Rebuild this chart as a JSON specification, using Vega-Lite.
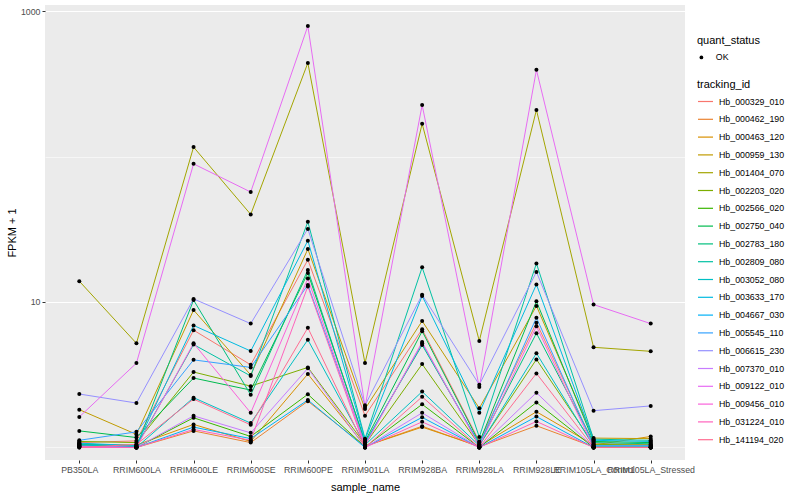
{
  "$schema": "https://vega.github.io/schema/vega-lite/v6.json",
  "width": 640,
  "height": 455,
  "autosize": {"type": "none"},
  "padding": {"left": 45, "top": 5, "right": 115, "bottom": 40},
  "background": "white",
  "config": {
    "font": "Liberation Sans",
    "view": {"fill": "#EBEBEB", "stroke": null},
    "axis": {"domain": false, "gridColor": "white", "tickColor": "#333333", "tickSize": 3, "labelColor": "#4D4D4D", "labelFontSize": 8.8, "titleFontSize": 11, "titleFontWeight": "normal", "titleColor": "black", "labelFont": "Liberation Sans", "titleFont": "Liberation Sans"},
    "legend": {"titleFontSize": 11, "titleFontWeight": "normal", "titleColor": "black", "labelFontSize": 8.8, "labelColor": "black", "titleFont": "Liberation Sans", "labelFont": "Liberation Sans"}
  },
  "data": {"values": [
    {"tracking_id":"Hb_000329_010","sample_name":"PB350LA","fpkm_plus_1":1.08,"quant_status":"OK"},
    {"tracking_id":"Hb_000329_010","sample_name":"RRIM600LA","fpkm_plus_1":1.11,"quant_status":"OK"},
    {"tracking_id":"Hb_000329_010","sample_name":"RRIM600LE","fpkm_plus_1":6.4,"quant_status":"OK"},
    {"tracking_id":"Hb_000329_010","sample_name":"RRIM600SE","fpkm_plus_1":3.7,"quant_status":"OK"},
    {"tracking_id":"Hb_000329_010","sample_name":"RRIM600PE","fpkm_plus_1":19.5,"quant_status":"OK"},
    {"tracking_id":"Hb_000329_010","sample_name":"RRIM901LA","fpkm_plus_1":1.65,"quant_status":"OK"},
    {"tracking_id":"Hb_000329_010","sample_name":"RRIM928BA","fpkm_plus_1":6.5,"quant_status":"OK"},
    {"tracking_id":"Hb_000329_010","sample_name":"RRIM928LA","fpkm_plus_1":1.1,"quant_status":"OK"},
    {"tracking_id":"Hb_000329_010","sample_name":"RRIM928LE","fpkm_plus_1":7.2,"quant_status":"OK"},
    {"tracking_id":"Hb_000329_010","sample_name":"RRIM105LA_Control","fpkm_plus_1":1.06,"quant_status":"OK"},
    {"tracking_id":"Hb_000329_010","sample_name":"RRIM105LA_Stressed","fpkm_plus_1":1.05,"quant_status":"OK"},

    {"tracking_id":"Hb_000462_190","sample_name":"PB350LA","fpkm_plus_1":1.03,"quant_status":"OK"},
    {"tracking_id":"Hb_000462_190","sample_name":"RRIM600LA","fpkm_plus_1":1.0,"quant_status":"OK"},
    {"tracking_id":"Hb_000462_190","sample_name":"RRIM600LE","fpkm_plus_1":1.3,"quant_status":"OK"},
    {"tracking_id":"Hb_000462_190","sample_name":"RRIM600SE","fpkm_plus_1":1.08,"quant_status":"OK"},
    {"tracking_id":"Hb_000462_190","sample_name":"RRIM600PE","fpkm_plus_1":2.08,"quant_status":"OK"},
    {"tracking_id":"Hb_000462_190","sample_name":"RRIM901LA","fpkm_plus_1":1.02,"quant_status":"OK"},
    {"tracking_id":"Hb_000462_190","sample_name":"RRIM928BA","fpkm_plus_1":1.4,"quant_status":"OK"},
    {"tracking_id":"Hb_000462_190","sample_name":"RRIM928LA","fpkm_plus_1":1.01,"quant_status":"OK"},
    {"tracking_id":"Hb_000462_190","sample_name":"RRIM928LE","fpkm_plus_1":1.41,"quant_status":"OK"},
    {"tracking_id":"Hb_000462_190","sample_name":"RRIM105LA_Control","fpkm_plus_1":1.01,"quant_status":"OK"},
    {"tracking_id":"Hb_000462_190","sample_name":"RRIM105LA_Stressed","fpkm_plus_1":1.01,"quant_status":"OK"},

    {"tracking_id":"Hb_000463_120","sample_name":"PB350LA","fpkm_plus_1":1.05,"quant_status":"OK"},
    {"tracking_id":"Hb_000463_120","sample_name":"RRIM600LA","fpkm_plus_1":1.04,"quant_status":"OK"},
    {"tracking_id":"Hb_000463_120","sample_name":"RRIM600LE","fpkm_plus_1":1.44,"quant_status":"OK"},
    {"tracking_id":"Hb_000463_120","sample_name":"RRIM600SE","fpkm_plus_1":1.1,"quant_status":"OK"},
    {"tracking_id":"Hb_000463_120","sample_name":"RRIM600PE","fpkm_plus_1":3.2,"quant_status":"OK"},
    {"tracking_id":"Hb_000463_120","sample_name":"RRIM901LA","fpkm_plus_1":1.02,"quant_status":"OK"},
    {"tracking_id":"Hb_000463_120","sample_name":"RRIM928BA","fpkm_plus_1":1.38,"quant_status":"OK"},
    {"tracking_id":"Hb_000463_120","sample_name":"RRIM928LA","fpkm_plus_1":1.02,"quant_status":"OK"},
    {"tracking_id":"Hb_000463_120","sample_name":"RRIM928LE","fpkm_plus_1":1.76,"quant_status":"OK"},
    {"tracking_id":"Hb_000463_120","sample_name":"RRIM105LA_Control","fpkm_plus_1":1.04,"quant_status":"OK"},
    {"tracking_id":"Hb_000463_120","sample_name":"RRIM105LA_Stressed","fpkm_plus_1":1.19,"quant_status":"OK"},

    {"tracking_id":"Hb_000959_130","sample_name":"PB350LA","fpkm_plus_1":1.82,"quant_status":"OK"},
    {"tracking_id":"Hb_000959_130","sample_name":"RRIM600LA","fpkm_plus_1":1.23,"quant_status":"OK"},
    {"tracking_id":"Hb_000959_130","sample_name":"RRIM600LE","fpkm_plus_1":8.8,"quant_status":"OK"},
    {"tracking_id":"Hb_000959_130","sample_name":"RRIM600SE","fpkm_plus_1":3.15,"quant_status":"OK"},
    {"tracking_id":"Hb_000959_130","sample_name":"RRIM600PE","fpkm_plus_1":23.1,"quant_status":"OK"},
    {"tracking_id":"Hb_000959_130","sample_name":"RRIM901LA","fpkm_plus_1":1.84,"quant_status":"OK"},
    {"tracking_id":"Hb_000959_130","sample_name":"RRIM928BA","fpkm_plus_1":7.4,"quant_status":"OK"},
    {"tracking_id":"Hb_000959_130","sample_name":"RRIM928LA","fpkm_plus_1":1.86,"quant_status":"OK"},
    {"tracking_id":"Hb_000959_130","sample_name":"RRIM928LE","fpkm_plus_1":9.4,"quant_status":"OK"},
    {"tracking_id":"Hb_000959_130","sample_name":"RRIM105LA_Control","fpkm_plus_1":1.16,"quant_status":"OK"},
    {"tracking_id":"Hb_000959_130","sample_name":"RRIM105LA_Stressed","fpkm_plus_1":1.15,"quant_status":"OK"},

    {"tracking_id":"Hb_001404_070","sample_name":"PB350LA","fpkm_plus_1":13.9,"quant_status":"OK"},
    {"tracking_id":"Hb_001404_070","sample_name":"RRIM600LA","fpkm_plus_1":5.2,"quant_status":"OK"},
    {"tracking_id":"Hb_001404_070","sample_name":"RRIM600LE","fpkm_plus_1":116,"quant_status":"OK"},
    {"tracking_id":"Hb_001404_070","sample_name":"RRIM600SE","fpkm_plus_1":40,"quant_status":"OK"},
    {"tracking_id":"Hb_001404_070","sample_name":"RRIM600PE","fpkm_plus_1":440,"quant_status":"OK"},
    {"tracking_id":"Hb_001404_070","sample_name":"RRIM901LA","fpkm_plus_1":3.8,"quant_status":"OK"},
    {"tracking_id":"Hb_001404_070","sample_name":"RRIM928BA","fpkm_plus_1":168,"quant_status":"OK"},
    {"tracking_id":"Hb_001404_070","sample_name":"RRIM928LA","fpkm_plus_1":5.4,"quant_status":"OK"},
    {"tracking_id":"Hb_001404_070","sample_name":"RRIM928LE","fpkm_plus_1":209,"quant_status":"OK"},
    {"tracking_id":"Hb_001404_070","sample_name":"RRIM105LA_Control","fpkm_plus_1":4.88,"quant_status":"OK"},
    {"tracking_id":"Hb_001404_070","sample_name":"RRIM105LA_Stressed","fpkm_plus_1":4.58,"quant_status":"OK"},

    {"tracking_id":"Hb_002203_020","sample_name":"PB350LA","fpkm_plus_1":1.1,"quant_status":"OK"},
    {"tracking_id":"Hb_002203_020","sample_name":"RRIM600LA","fpkm_plus_1":1.08,"quant_status":"OK"},
    {"tracking_id":"Hb_002203_020","sample_name":"RRIM600LE","fpkm_plus_1":3.3,"quant_status":"OK"},
    {"tracking_id":"Hb_002203_020","sample_name":"RRIM600SE","fpkm_plus_1":2.64,"quant_status":"OK"},
    {"tracking_id":"Hb_002203_020","sample_name":"RRIM600PE","fpkm_plus_1":3.55,"quant_status":"OK"},
    {"tracking_id":"Hb_002203_020","sample_name":"RRIM901LA","fpkm_plus_1":1.05,"quant_status":"OK"},
    {"tracking_id":"Hb_002203_020","sample_name":"RRIM928BA","fpkm_plus_1":3.74,"quant_status":"OK"},
    {"tracking_id":"Hb_002203_020","sample_name":"RRIM928LA","fpkm_plus_1":1.04,"quant_status":"OK"},
    {"tracking_id":"Hb_002203_020","sample_name":"RRIM928LE","fpkm_plus_1":4.03,"quant_status":"OK"},
    {"tracking_id":"Hb_002203_020","sample_name":"RRIM105LA_Control","fpkm_plus_1":1.05,"quant_status":"OK"},
    {"tracking_id":"Hb_002203_020","sample_name":"RRIM105LA_Stressed","fpkm_plus_1":1.04,"quant_status":"OK"},

    {"tracking_id":"Hb_002566_020","sample_name":"PB350LA","fpkm_plus_1":1.03,"quant_status":"OK"},
    {"tracking_id":"Hb_002566_020","sample_name":"RRIM600LA","fpkm_plus_1":1.0,"quant_status":"OK"},
    {"tracking_id":"Hb_002566_020","sample_name":"RRIM600LE","fpkm_plus_1":1.6,"quant_status":"OK"},
    {"tracking_id":"Hb_002566_020","sample_name":"RRIM600SE","fpkm_plus_1":1.19,"quant_status":"OK"},
    {"tracking_id":"Hb_002566_020","sample_name":"RRIM600PE","fpkm_plus_1":2.32,"quant_status":"OK"},
    {"tracking_id":"Hb_002566_020","sample_name":"RRIM901LA","fpkm_plus_1":1.01,"quant_status":"OK"},
    {"tracking_id":"Hb_002566_020","sample_name":"RRIM928BA","fpkm_plus_1":1.98,"quant_status":"OK"},
    {"tracking_id":"Hb_002566_020","sample_name":"RRIM928LA","fpkm_plus_1":1.0,"quant_status":"OK"},
    {"tracking_id":"Hb_002566_020","sample_name":"RRIM928LE","fpkm_plus_1":2.04,"quant_status":"OK"},
    {"tracking_id":"Hb_002566_020","sample_name":"RRIM105LA_Control","fpkm_plus_1":1.0,"quant_status":"OK"},
    {"tracking_id":"Hb_002566_020","sample_name":"RRIM105LA_Stressed","fpkm_plus_1":1.0,"quant_status":"OK"},

    {"tracking_id":"Hb_002750_040","sample_name":"PB350LA","fpkm_plus_1":1.3,"quant_status":"OK"},
    {"tracking_id":"Hb_002750_040","sample_name":"RRIM600LA","fpkm_plus_1":1.17,"quant_status":"OK"},
    {"tracking_id":"Hb_002750_040","sample_name":"RRIM600LE","fpkm_plus_1":3.0,"quant_status":"OK"},
    {"tracking_id":"Hb_002750_040","sample_name":"RRIM600SE","fpkm_plus_1":2.48,"quant_status":"OK"},
    {"tracking_id":"Hb_002750_040","sample_name":"RRIM600PE","fpkm_plus_1":15.8,"quant_status":"OK"},
    {"tracking_id":"Hb_002750_040","sample_name":"RRIM901LA","fpkm_plus_1":1.1,"quant_status":"OK"},
    {"tracking_id":"Hb_002750_040","sample_name":"RRIM928BA","fpkm_plus_1":6.3,"quant_status":"OK"},
    {"tracking_id":"Hb_002750_040","sample_name":"RRIM928LA","fpkm_plus_1":1.08,"quant_status":"OK"},
    {"tracking_id":"Hb_002750_040","sample_name":"RRIM928LE","fpkm_plus_1":10.1,"quant_status":"OK"},
    {"tracking_id":"Hb_002750_040","sample_name":"RRIM105LA_Control","fpkm_plus_1":1.1,"quant_status":"OK"},
    {"tracking_id":"Hb_002750_040","sample_name":"RRIM105LA_Stressed","fpkm_plus_1":1.08,"quant_status":"OK"},

    {"tracking_id":"Hb_002783_180","sample_name":"PB350LA","fpkm_plus_1":1.05,"quant_status":"OK"},
    {"tracking_id":"Hb_002783_180","sample_name":"RRIM600LA","fpkm_plus_1":1.01,"quant_status":"OK"},
    {"tracking_id":"Hb_002783_180","sample_name":"RRIM600LE","fpkm_plus_1":10.3,"quant_status":"OK"},
    {"tracking_id":"Hb_002783_180","sample_name":"RRIM600SE","fpkm_plus_1":2.3,"quant_status":"OK"},
    {"tracking_id":"Hb_002783_180","sample_name":"RRIM600PE","fpkm_plus_1":16.6,"quant_status":"OK"},
    {"tracking_id":"Hb_002783_180","sample_name":"RRIM901LA","fpkm_plus_1":1.08,"quant_status":"OK"},
    {"tracking_id":"Hb_002783_180","sample_name":"RRIM928BA","fpkm_plus_1":5.06,"quant_status":"OK"},
    {"tracking_id":"Hb_002783_180","sample_name":"RRIM928LA","fpkm_plus_1":1.06,"quant_status":"OK"},
    {"tracking_id":"Hb_002783_180","sample_name":"RRIM928LE","fpkm_plus_1":6.1,"quant_status":"OK"},
    {"tracking_id":"Hb_002783_180","sample_name":"RRIM105LA_Control","fpkm_plus_1":1.08,"quant_status":"OK"},
    {"tracking_id":"Hb_002783_180","sample_name":"RRIM105LA_Stressed","fpkm_plus_1":1.06,"quant_status":"OK"},

    {"tracking_id":"Hb_002809_080","sample_name":"PB350LA","fpkm_plus_1":1.06,"quant_status":"OK"},
    {"tracking_id":"Hb_002809_080","sample_name":"RRIM600LA","fpkm_plus_1":1.02,"quant_status":"OK"},
    {"tracking_id":"Hb_002809_080","sample_name":"RRIM600LE","fpkm_plus_1":5.1,"quant_status":"OK"},
    {"tracking_id":"Hb_002809_080","sample_name":"RRIM600SE","fpkm_plus_1":3.1,"quant_status":"OK"},
    {"tracking_id":"Hb_002809_080","sample_name":"RRIM600PE","fpkm_plus_1":35.6,"quant_status":"OK"},
    {"tracking_id":"Hb_002809_080","sample_name":"RRIM901LA","fpkm_plus_1":1.15,"quant_status":"OK"},
    {"tracking_id":"Hb_002809_080","sample_name":"RRIM928BA","fpkm_plus_1":17.3,"quant_status":"OK"},
    {"tracking_id":"Hb_002809_080","sample_name":"RRIM928LA","fpkm_plus_1":1.18,"quant_status":"OK"},
    {"tracking_id":"Hb_002809_080","sample_name":"RRIM928LE","fpkm_plus_1":18.4,"quant_status":"OK"},
    {"tracking_id":"Hb_002809_080","sample_name":"RRIM105LA_Control","fpkm_plus_1":1.14,"quant_status":"OK"},
    {"tracking_id":"Hb_002809_080","sample_name":"RRIM105LA_Stressed","fpkm_plus_1":1.12,"quant_status":"OK"},

    {"tracking_id":"Hb_003052_080","sample_name":"PB350LA","fpkm_plus_1":1.04,"quant_status":"OK"},
    {"tracking_id":"Hb_003052_080","sample_name":"RRIM600LA","fpkm_plus_1":1.0,"quant_status":"OK"},
    {"tracking_id":"Hb_003052_080","sample_name":"RRIM600LE","fpkm_plus_1":2.2,"quant_status":"OK"},
    {"tracking_id":"Hb_003052_080","sample_name":"RRIM600SE","fpkm_plus_1":1.47,"quant_status":"OK"},
    {"tracking_id":"Hb_003052_080","sample_name":"RRIM600PE","fpkm_plus_1":5.5,"quant_status":"OK"},
    {"tracking_id":"Hb_003052_080","sample_name":"RRIM901LA","fpkm_plus_1":1.04,"quant_status":"OK"},
    {"tracking_id":"Hb_003052_080","sample_name":"RRIM928BA","fpkm_plus_1":2.42,"quant_status":"OK"},
    {"tracking_id":"Hb_003052_080","sample_name":"RRIM928LA","fpkm_plus_1":1.03,"quant_status":"OK"},
    {"tracking_id":"Hb_003052_080","sample_name":"RRIM928LE","fpkm_plus_1":4.44,"quant_status":"OK"},
    {"tracking_id":"Hb_003052_080","sample_name":"RRIM105LA_Control","fpkm_plus_1":1.02,"quant_status":"OK"},
    {"tracking_id":"Hb_003052_080","sample_name":"RRIM105LA_Stressed","fpkm_plus_1":1.02,"quant_status":"OK"},

    {"tracking_id":"Hb_003633_170","sample_name":"PB350LA","fpkm_plus_1":1.07,"quant_status":"OK"},
    {"tracking_id":"Hb_003633_170","sample_name":"RRIM600LA","fpkm_plus_1":1.03,"quant_status":"OK"},
    {"tracking_id":"Hb_003633_170","sample_name":"RRIM600LE","fpkm_plus_1":6.9,"quant_status":"OK"},
    {"tracking_id":"Hb_003633_170","sample_name":"RRIM600SE","fpkm_plus_1":4.6,"quant_status":"OK"},
    {"tracking_id":"Hb_003633_170","sample_name":"RRIM600PE","fpkm_plus_1":26.4,"quant_status":"OK"},
    {"tracking_id":"Hb_003633_170","sample_name":"RRIM901LA","fpkm_plus_1":1.13,"quant_status":"OK"},
    {"tracking_id":"Hb_003633_170","sample_name":"RRIM928BA","fpkm_plus_1":11.0,"quant_status":"OK"},
    {"tracking_id":"Hb_003633_170","sample_name":"RRIM928LA","fpkm_plus_1":1.73,"quant_status":"OK"},
    {"tracking_id":"Hb_003633_170","sample_name":"RRIM928LE","fpkm_plus_1":13.2,"quant_status":"OK"},
    {"tracking_id":"Hb_003633_170","sample_name":"RRIM105LA_Control","fpkm_plus_1":1.12,"quant_status":"OK"},
    {"tracking_id":"Hb_003633_170","sample_name":"RRIM105LA_Stressed","fpkm_plus_1":1.1,"quant_status":"OK"},

    {"tracking_id":"Hb_004667_030","sample_name":"PB350LA","fpkm_plus_1":1.02,"quant_status":"OK"},
    {"tracking_id":"Hb_004667_030","sample_name":"RRIM600LA","fpkm_plus_1":1.0,"quant_status":"OK"},
    {"tracking_id":"Hb_004667_030","sample_name":"RRIM600LE","fpkm_plus_1":1.38,"quant_status":"OK"},
    {"tracking_id":"Hb_004667_030","sample_name":"RRIM600SE","fpkm_plus_1":1.15,"quant_status":"OK"},
    {"tracking_id":"Hb_004667_030","sample_name":"RRIM600PE","fpkm_plus_1":2.12,"quant_status":"OK"},
    {"tracking_id":"Hb_004667_030","sample_name":"RRIM901LA","fpkm_plus_1":1.0,"quant_status":"OK"},
    {"tracking_id":"Hb_004667_030","sample_name":"RRIM928BA","fpkm_plus_1":1.61,"quant_status":"OK"},
    {"tracking_id":"Hb_004667_030","sample_name":"RRIM928LA","fpkm_plus_1":1.0,"quant_status":"OK"},
    {"tracking_id":"Hb_004667_030","sample_name":"RRIM928LE","fpkm_plus_1":1.63,"quant_status":"OK"},
    {"tracking_id":"Hb_004667_030","sample_name":"RRIM105LA_Control","fpkm_plus_1":1.0,"quant_status":"OK"},
    {"tracking_id":"Hb_004667_030","sample_name":"RRIM105LA_Stressed","fpkm_plus_1":1.0,"quant_status":"OK"},

    {"tracking_id":"Hb_005545_110","sample_name":"PB350LA","fpkm_plus_1":1.12,"quant_status":"OK"},
    {"tracking_id":"Hb_005545_110","sample_name":"RRIM600LA","fpkm_plus_1":1.28,"quant_status":"OK"},
    {"tracking_id":"Hb_005545_110","sample_name":"RRIM600LE","fpkm_plus_1":4.0,"quant_status":"OK"},
    {"tracking_id":"Hb_005545_110","sample_name":"RRIM600SE","fpkm_plus_1":3.55,"quant_status":"OK"},
    {"tracking_id":"Hb_005545_110","sample_name":"RRIM600PE","fpkm_plus_1":13.1,"quant_status":"OK"},
    {"tracking_id":"Hb_005545_110","sample_name":"RRIM901LA","fpkm_plus_1":1.06,"quant_status":"OK"},
    {"tracking_id":"Hb_005545_110","sample_name":"RRIM928BA","fpkm_plus_1":5.2,"quant_status":"OK"},
    {"tracking_id":"Hb_005545_110","sample_name":"RRIM928LA","fpkm_plus_1":1.05,"quant_status":"OK"},
    {"tracking_id":"Hb_005545_110","sample_name":"RRIM928LE","fpkm_plus_1":7.8,"quant_status":"OK"},
    {"tracking_id":"Hb_005545_110","sample_name":"RRIM105LA_Control","fpkm_plus_1":1.03,"quant_status":"OK"},
    {"tracking_id":"Hb_005545_110","sample_name":"RRIM105LA_Stressed","fpkm_plus_1":1.03,"quant_status":"OK"},

    {"tracking_id":"Hb_006615_230","sample_name":"PB350LA","fpkm_plus_1":2.33,"quant_status":"OK"},
    {"tracking_id":"Hb_006615_230","sample_name":"RRIM600LA","fpkm_plus_1":2.02,"quant_status":"OK"},
    {"tracking_id":"Hb_006615_230","sample_name":"RRIM600LE","fpkm_plus_1":10.5,"quant_status":"OK"},
    {"tracking_id":"Hb_006615_230","sample_name":"RRIM600SE","fpkm_plus_1":7.1,"quant_status":"OK"},
    {"tracking_id":"Hb_006615_230","sample_name":"RRIM600PE","fpkm_plus_1":31.8,"quant_status":"OK"},
    {"tracking_id":"Hb_006615_230","sample_name":"RRIM901LA","fpkm_plus_1":1.95,"quant_status":"OK"},
    {"tracking_id":"Hb_006615_230","sample_name":"RRIM928BA","fpkm_plus_1":11.2,"quant_status":"OK"},
    {"tracking_id":"Hb_006615_230","sample_name":"RRIM928LA","fpkm_plus_1":2.7,"quant_status":"OK"},
    {"tracking_id":"Hb_006615_230","sample_name":"RRIM928LE","fpkm_plus_1":16.1,"quant_status":"OK"},
    {"tracking_id":"Hb_006615_230","sample_name":"RRIM105LA_Control","fpkm_plus_1":1.79,"quant_status":"OK"},
    {"tracking_id":"Hb_006615_230","sample_name":"RRIM105LA_Stressed","fpkm_plus_1":1.93,"quant_status":"OK"},

    {"tracking_id":"Hb_007370_010","sample_name":"PB350LA","fpkm_plus_1":1.02,"quant_status":"OK"},
    {"tracking_id":"Hb_007370_010","sample_name":"RRIM600LA","fpkm_plus_1":1.0,"quant_status":"OK"},
    {"tracking_id":"Hb_007370_010","sample_name":"RRIM600LE","fpkm_plus_1":1.65,"quant_status":"OK"},
    {"tracking_id":"Hb_007370_010","sample_name":"RRIM600SE","fpkm_plus_1":1.26,"quant_status":"OK"},
    {"tracking_id":"Hb_007370_010","sample_name":"RRIM600PE","fpkm_plus_1":3.5,"quant_status":"OK"},
    {"tracking_id":"Hb_007370_010","sample_name":"RRIM901LA","fpkm_plus_1":1.0,"quant_status":"OK"},
    {"tracking_id":"Hb_007370_010","sample_name":"RRIM928BA","fpkm_plus_1":1.73,"quant_status":"OK"},
    {"tracking_id":"Hb_007370_010","sample_name":"RRIM928LA","fpkm_plus_1":1.0,"quant_status":"OK"},
    {"tracking_id":"Hb_007370_010","sample_name":"RRIM928LE","fpkm_plus_1":2.38,"quant_status":"OK"},
    {"tracking_id":"Hb_007370_010","sample_name":"RRIM105LA_Control","fpkm_plus_1":1.0,"quant_status":"OK"},
    {"tracking_id":"Hb_007370_010","sample_name":"RRIM105LA_Stressed","fpkm_plus_1":1.0,"quant_status":"OK"},

    {"tracking_id":"Hb_009122_010","sample_name":"PB350LA","fpkm_plus_1":1.62,"quant_status":"OK"},
    {"tracking_id":"Hb_009122_010","sample_name":"RRIM600LA","fpkm_plus_1":3.8,"quant_status":"OK"},
    {"tracking_id":"Hb_009122_010","sample_name":"RRIM600LE","fpkm_plus_1":89,"quant_status":"OK"},
    {"tracking_id":"Hb_009122_010","sample_name":"RRIM600SE","fpkm_plus_1":57,"quant_status":"OK"},
    {"tracking_id":"Hb_009122_010","sample_name":"RRIM600PE","fpkm_plus_1":789,"quant_status":"OK"},
    {"tracking_id":"Hb_009122_010","sample_name":"RRIM901LA","fpkm_plus_1":1.9,"quant_status":"OK"},
    {"tracking_id":"Hb_009122_010","sample_name":"RRIM928BA","fpkm_plus_1":226,"quant_status":"OK"},
    {"tracking_id":"Hb_009122_010","sample_name":"RRIM928LA","fpkm_plus_1":2.6,"quant_status":"OK"},
    {"tracking_id":"Hb_009122_010","sample_name":"RRIM928LE","fpkm_plus_1":394,"quant_status":"OK"},
    {"tracking_id":"Hb_009122_010","sample_name":"RRIM105LA_Control","fpkm_plus_1":9.6,"quant_status":"OK"},
    {"tracking_id":"Hb_009122_010","sample_name":"RRIM105LA_Stressed","fpkm_plus_1":7.1,"quant_status":"OK"},

    {"tracking_id":"Hb_009456_010","sample_name":"PB350LA","fpkm_plus_1":1.01,"quant_status":"OK"},
    {"tracking_id":"Hb_009456_010","sample_name":"RRIM600LA","fpkm_plus_1":1.0,"quant_status":"OK"},
    {"tracking_id":"Hb_009456_010","sample_name":"RRIM600LE","fpkm_plus_1":5.2,"quant_status":"OK"},
    {"tracking_id":"Hb_009456_010","sample_name":"RRIM600SE","fpkm_plus_1":1.73,"quant_status":"OK"},
    {"tracking_id":"Hb_009456_010","sample_name":"RRIM600PE","fpkm_plus_1":14.5,"quant_status":"OK"},
    {"tracking_id":"Hb_009456_010","sample_name":"RRIM901LA","fpkm_plus_1":1.03,"quant_status":"OK"},
    {"tracking_id":"Hb_009456_010","sample_name":"RRIM928BA","fpkm_plus_1":5.3,"quant_status":"OK"},
    {"tracking_id":"Hb_009456_010","sample_name":"RRIM928LA","fpkm_plus_1":1.02,"quant_status":"OK"},
    {"tracking_id":"Hb_009456_010","sample_name":"RRIM928LE","fpkm_plus_1":6.8,"quant_status":"OK"},
    {"tracking_id":"Hb_009456_010","sample_name":"RRIM105LA_Control","fpkm_plus_1":1.0,"quant_status":"OK"},
    {"tracking_id":"Hb_009456_010","sample_name":"RRIM105LA_Stressed","fpkm_plus_1":1.0,"quant_status":"OK"},

    {"tracking_id":"Hb_031224_010","sample_name":"PB350LA","fpkm_plus_1":1.0,"quant_status":"OK"},
    {"tracking_id":"Hb_031224_010","sample_name":"RRIM600LA","fpkm_plus_1":1.0,"quant_status":"OK"},
    {"tracking_id":"Hb_031224_010","sample_name":"RRIM600LE","fpkm_plus_1":1.33,"quant_status":"OK"},
    {"tracking_id":"Hb_031224_010","sample_name":"RRIM600SE","fpkm_plus_1":1.12,"quant_status":"OK"},
    {"tracking_id":"Hb_031224_010","sample_name":"RRIM600PE","fpkm_plus_1":12.8,"quant_status":"OK"},
    {"tracking_id":"Hb_031224_010","sample_name":"RRIM901LA","fpkm_plus_1":1.0,"quant_status":"OK"},
    {"tracking_id":"Hb_031224_010","sample_name":"RRIM928BA","fpkm_plus_1":1.5,"quant_status":"OK"},
    {"tracking_id":"Hb_031224_010","sample_name":"RRIM928LA","fpkm_plus_1":1.0,"quant_status":"OK"},
    {"tracking_id":"Hb_031224_010","sample_name":"RRIM928LE","fpkm_plus_1":1.51,"quant_status":"OK"},
    {"tracking_id":"Hb_031224_010","sample_name":"RRIM105LA_Control","fpkm_plus_1":1.0,"quant_status":"OK"},
    {"tracking_id":"Hb_031224_010","sample_name":"RRIM105LA_Stressed","fpkm_plus_1":1.0,"quant_status":"OK"},

    {"tracking_id":"Hb_141194_020","sample_name":"PB350LA","fpkm_plus_1":1.0,"quant_status":"OK"},
    {"tracking_id":"Hb_141194_020","sample_name":"RRIM600LA","fpkm_plus_1":1.05,"quant_status":"OK"},
    {"tracking_id":"Hb_141194_020","sample_name":"RRIM600LE","fpkm_plus_1":2.15,"quant_status":"OK"},
    {"tracking_id":"Hb_141194_020","sample_name":"RRIM600SE","fpkm_plus_1":1.43,"quant_status":"OK"},
    {"tracking_id":"Hb_141194_020","sample_name":"RRIM600PE","fpkm_plus_1":6.65,"quant_status":"OK"},
    {"tracking_id":"Hb_141194_020","sample_name":"RRIM901LA","fpkm_plus_1":1.0,"quant_status":"OK"},
    {"tracking_id":"Hb_141194_020","sample_name":"RRIM928BA","fpkm_plus_1":2.23,"quant_status":"OK"},
    {"tracking_id":"Hb_141194_020","sample_name":"RRIM928LA","fpkm_plus_1":1.0,"quant_status":"OK"},
    {"tracking_id":"Hb_141194_020","sample_name":"RRIM928LE","fpkm_plus_1":3.23,"quant_status":"OK"},
    {"tracking_id":"Hb_141194_020","sample_name":"RRIM105LA_Control","fpkm_plus_1":1.0,"quant_status":"OK"},
    {"tracking_id":"Hb_141194_020","sample_name":"RRIM105LA_Stressed","fpkm_plus_1":1.0,"quant_status":"OK"}
  ]},
  "encoding": {
    "x": {
      "field": "sample_name", "type": "nominal",
      "sort": ["PB350LA","RRIM600LA","RRIM600LE","RRIM600SE","RRIM600PE","RRIM901LA","RRIM928BA","RRIM928LA","RRIM928LE","RRIM105LA_Control","RRIM105LA_Stressed"],
      "scale": {"type": "point", "padding": 0.6},
      "axis": {"title": "sample_name", "labelAngle": 0, "labelOverlap": false, "labelLimit": 0, "labelPadding": 2, "titlePadding": 8, "gridWidth": 1.1}
    },
    "y": {
      "field": "fpkm_plus_1", "type": "quantitative",
      "scale": {"type": "log", "domain": [0.82, 1100], "nice": false, "zero": false},
      "axis": {
        "title": "FPKM + 1",
        "values": [1, 10, 100, 1000],
        "labelExpr": "(datum.value == 10 || datum.value == 1000) ? format(datum.value, 'd') : ''",
        "gridWidth": {"condition": {"test": "datum.value == 10 || datum.value == 1000", "value": 1.1}, "value": 0.55},
        "tickOpacity": {"condition": {"test": "datum.value == 10 || datum.value == 1000", "value": 1}, "value": 0},
        "labelPadding": 2,
        "titlePadding": 3
      }
    }
  },
  "layer": [
    {
      "mark": {"type": "line", "strokeWidth": 1},
      "encoding": {
        "color": {
          "field": "tracking_id", "type": "nominal",
          "scale": {
            "domain": ["Hb_000329_010","Hb_000462_190","Hb_000463_120","Hb_000959_130","Hb_001404_070","Hb_002203_020","Hb_002566_020","Hb_002750_040","Hb_002783_180","Hb_002809_080","Hb_003052_080","Hb_003633_170","Hb_004667_030","Hb_005545_110","Hb_006615_230","Hb_007370_010","Hb_009122_010","Hb_009456_010","Hb_031224_010","Hb_141194_020"],
            "range": ["#F8766D","#EA8331","#D89000","#C09B00","#A3A500","#7CAE00","#39B600","#00BB4E","#00BF7D","#00C1A3","#00BFC4","#00BAE0","#00B0F6","#35A2FF","#9590FF","#C77CFF","#E76BF3","#FA62DB","#FF62BC","#FF6C91"]
          },
          "legend": {"title": "tracking_id", "orient": "none", "legendX": 652, "legendY": 74, "symbolType": "stroke", "symbolStrokeWidth": 1.2, "symbolSize": 225, "rowPadding": 3.8, "labelOffset": 5, "titlePadding": 3}
        },
        "order": {"value": null}
      }
    },
    {
      "mark": {"type": "point", "filled": true, "color": "black", "size": 16, "opacity": 1},
      "encoding": {
        "shape": {
          "field": "quant_status", "type": "nominal",
          "scale": {"range": ["circle"]},
          "legend": {"title": "quant_status", "orient": "none", "legendX": 652, "legendY": 30, "symbolFillColor": "black", "symbolStrokeColor": "black", "symbolSize": 14, "labelOffset": 10, "titlePadding": 7}
        }
      }
    }
  ]
}
